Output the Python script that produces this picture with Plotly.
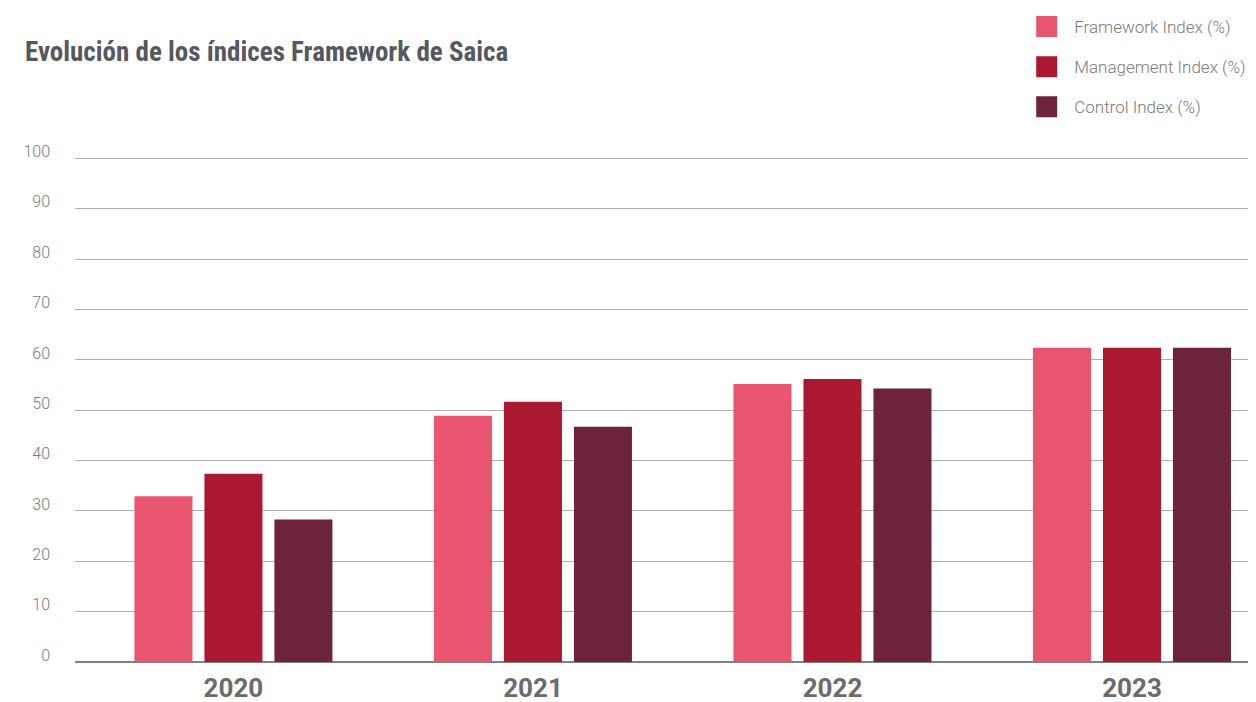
import plotly.graph_objects as go

years = ["2020", "2021", "2022", "2023"]
framework = [32.9, 48.9, 55.2, 62.4]
management = [37.4, 51.7, 56.2, 62.4]
control = [28.3, 46.7, 54.3, 62.4]

series = [
    ("Framework Index (%)", framework, "#E9556F"),
    ("Management Index (%)", management, "#AA192F"),
    ("Control Index (%)", control, "#6D233B"),
]

fig = go.Figure()
for i, (name, vals, color) in enumerate(series):
    fig.add_trace(go.Bar(x=years, y=vals, name=name, marker_color=color,
                         marker_line_width=0, showlegend=False))
    # bigger legend squares than the bar default
    fig.add_trace(go.Scatter(x=[None], y=[None], mode="markers", name=name,
                             legendgroup=str(i),
                             marker=dict(symbol="square", size=16, color=color,
                                         line=dict(color=color, width=5))))

# page body has an 8px margin, so the figure is sized to the visible area
fig.update_layout(
    width=1248, height=694,
    margin=dict(l=67, r=0, t=149, b=40, autoexpand=False),
    paper_bgcolor="white", plot_bgcolor="white",
    barmode="group", bargap=0.299, bargroupgap=0.171,
    title=dict(text="<b>Evolución de los índices Framework de Saica</b>",
               x=17 / 1248, xanchor="left", xref="container",
               y=1 - 44 / 694, yanchor="middle", yref="container",
               font=dict(family="Roboto Condensed, Roboto", size=27,
                         color="#55595f")),
    legend=dict(x=0.7995, xanchor="left", y=1.293, yanchor="top",
                itemsizing="trace", itemwidth=45, tracegroupgap=15,
                font=dict(family="Roboto", weight=300, size=17,
                          color="#7a7a7a")),
    showlegend=True,
)
fig.update_xaxes(range=[-0.529, 3.414], showgrid=False, ticks="",
                 showline=False, automargin=False,
                 tickfont=dict(family="Roboto", size=26,
                               color="#6b6b6b", weight="bold"),
                 ticklabelstandoff=8)
fig.update_yaxes(range=[0, 100.3], tickvals=list(range(0, 101, 10)),
                 showgrid=True, gridcolor="#adadad", automargin=False,
                 gridwidth=1, zeroline=True, zerolinecolor="#808080",
                 zerolinewidth=1.5, ticks="",
                 tickfont=dict(family="Roboto", weight=300, size=16,
                               color="#7a7a7a"),
                 ticklabelstandoff=24, ticklabelshift=-7)

fig.write_html("out.html")
